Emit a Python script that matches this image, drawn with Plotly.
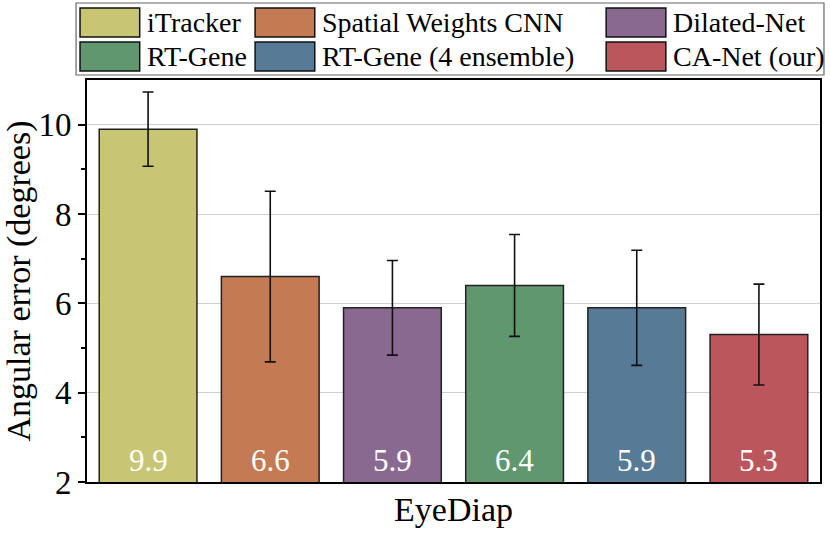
import plotly.graph_objects as go

# ---- data ----
methods = ["iTracker", "Spatial Weights CNN", "Dilated-Net",
           "RT-Gene", "RT-Gene (4 ensemble)", "CA-Net (our)"]
errors = [9.9, 6.6, 5.9, 6.4, 5.9, 5.3]
stds = [0.83, 1.91, 1.06, 1.14, 1.29, 1.13]
colors = ["#C8C574", "#C47A52", "#8A6991", "#61976F", "#577A96", "#BA565C"]
y_ticks = [2, 4, 6, 8, 10]
y_minor = [3, 5, 7, 9]
dataset = "EyeDiap"

FONT = "'Liberation Serif', 'Times New Roman', Times, serif"
W, H = 831, 539
L, R, T, B = 85, 9, 80, 57
pw, ph = W - L - R, H - T - B

def px2paper(x, y):
    return (x - L) / pw, (H - B - y) / ph

xs = list(range(len(methods)))
fig = go.Figure()
fig.add_trace(go.Bar(
    x=xs, y=errors, width=0.8,
    marker=dict(color=colors, line=dict(color="#222222", width=1.5)),
    error_y=dict(type="data", array=stds, visible=True,
                 color="#111111", thickness=1.6, width=5.5),
    showlegend=False, hoverinfo="skip",
))

annotations = []
for x, v in zip(xs, errors):
    annotations.append(dict(x=x, y=2, xref="x", yref="y", text=f"{v}",
                            showarrow=False, yanchor="bottom", yshift=2,
                            font=dict(family=FONT, size=31, color="white")))

# manual legend (3 columns x 2 rows)
shapes = []
bx0, by0 = px2paper(74, 3)
bx1, by1 = px2paper(826, 75)
shapes.append(dict(type="rect", xref="paper", yref="paper",
                   x0=bx0, y0=by1, x1=bx1, y1=by0,
                   line=dict(color="#666666", width=1.2), fillcolor="white",
                   layer="above"))
col_x = [78, 254, 607]
row_y = [(8, 37), (42, 71)]
for i, (name, c) in enumerate(zip(methods, colors)):
    col, row = i % 3, i // 3
    sx0 = col_x[col]
    sx1 = sx0 + 60
    sy0, sy1 = row_y[row]
    a0, b0 = px2paper(sx0, sy0)
    a1, b1 = px2paper(sx1, sy1)
    shapes.append(dict(type="rect", xref="paper", yref="paper",
                       x0=a0, y0=b1, x1=a1, y1=b0,
                       line=dict(color="#111111", width=1.5), fillcolor=c,
                       layer="above"))
    tx, ty = px2paper(sx1 + 5, (sy0 + sy1) / 2)
    annotations.append(dict(x=tx, y=ty, xref="paper", yref="paper",
                            text=name, showarrow=False, xanchor="left",
                            yanchor="middle",
                            font=dict(family=FONT, size=28, color="black")))

fig.update_layout(
    width=W, height=H,
    margin=dict(l=L, r=R, t=T, b=B),
    plot_bgcolor="white", paper_bgcolor="white",
    font=dict(family=FONT, color="black"),
    shapes=shapes, annotations=annotations,
    xaxis=dict(range=[-0.5, len(methods) - 0.5], showticklabels=False,
               ticks="", showgrid=False, zeroline=False,
               showline=True, linecolor="black", linewidth=2, mirror=True,
               title=dict(text=dataset, font=dict(family=FONT, size=34),
                          standoff=14)),
    yaxis=dict(range=[2, 11], tickvals=y_ticks, ticks="outside", ticklen=7,
               tickwidth=1.5, tickcolor="black",
               minor=dict(tickvals=y_minor, ticks="outside", ticklen=4,
                          tickwidth=1.5, tickcolor="black", showgrid=False),
               showgrid=True, gridcolor="#D0D0D0", gridwidth=1.2,
               zeroline=False, showline=True, linecolor="black", linewidth=2,
               mirror=True,
               tickfont=dict(family=FONT, size=33),
               title=dict(text="Angular error (degrees)",
                          font=dict(family=FONT, size=34), standoff=6)),
)

fig.write_html("out.html",
               config={"displayModeBar": False},
               post_script="document.body.style.margin='0';"
                           "document.body.style.overflow='hidden';")
